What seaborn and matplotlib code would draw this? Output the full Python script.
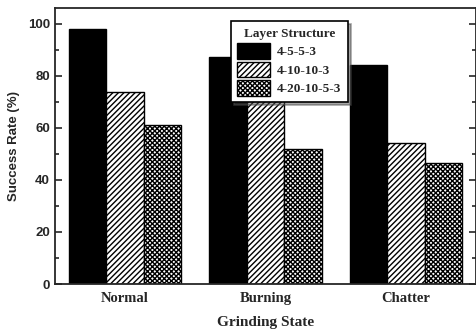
import pandas as pd
import seaborn as sns
import matplotlib.pyplot as plt
from matplotlib.ticker import MultipleLocator

states = ["Normal", "Burning", "Chatter"]
structures = ["4-5-5-3", "4-10-10-3", "4-20-10-5-3"]
rate_4_5_5_3 = [98, 87, 84.2]
rate_4_10_10_3 = [73.8, 75, 54.2]
rate_4_20_10_5_3 = [61.2, 52, 46.5]

df = pd.DataFrame({
    "Grinding State": states * 3,
    "Layer Structure": [structures[0]] * 3 + [structures[1]] * 3 + [structures[2]] * 3,
    "Success Rate": rate_4_5_5_3 + rate_4_10_10_3 + rate_4_20_10_5_3,
})

sns.set_style("ticks")
plt.rcParams['hatch.linewidth'] = 1.0
serif = ['Liberation Serif', 'DejaVu Serif']
sans = ['Liberation Sans', 'DejaVu Sans']

fig = plt.figure(figsize=(4.77, 3.33), dpi=100)
ax = fig.add_axes([0.115, 0.147, 0.883, 0.829])

sns.barplot(data=df, x="Grinding State", y="Success Rate", hue="Layer Structure",
            palette=["black", "white", "white"], edgecolor="black", linewidth=1,
            width=0.8, saturation=1, ax=ax, legend=False)

hatches = ["", "//////", "xxxxxxx"]
for cont, h in zip(ax.containers, hatches):
    for bar in cont:
        bar.set_hatch(h)

ax.set_ylim(0, 106)
ax.set_xlim(-0.5, 2.5)
ax.yaxis.set_major_locator(MultipleLocator(20))
ax.yaxis.set_minor_locator(MultipleLocator(10))
ax.tick_params(axis='y', which='both', direction='in', right=True, width=1.2)
ax.tick_params(axis='y', which='major', length=5)
ax.tick_params(axis='y', which='minor', length=3)
ax.tick_params(axis='x', length=0, pad=6)
for s in ax.spines.values():
    s.set_visible(True)
    s.set_linewidth(1.3)

for lbl in ax.get_yticklabels():
    lbl.set_fontfamily(sans)
    lbl.set_fontweight('bold')
    lbl.set_fontsize(9.5)
for lbl in ax.get_xticklabels():
    lbl.set_fontfamily(serif)
    lbl.set_fontweight('bold')
    lbl.set_fontsize(10.5)

ax.set_xlabel("Grinding State", fontfamily=serif, fontweight='bold', fontsize=11, labelpad=8)
ax.set_ylabel("Success Rate (%)", fontfamily=sans, fontweight='bold', fontsize=9.5, labelpad=6)

leg = ax.legend(handles=list(ax.containers), labels=structures,
                title="Layer Structure", loc="upper left", bbox_to_anchor=(0.402, 0.975),
                frameon=True, fancybox=False, shadow=True, edgecolor="black",
                prop={'family': serif, 'weight': 'bold', 'size': 9.5},
                handlelength=2.5, handleheight=1.4, borderpad=0.5, labelspacing=0.25,
                handletextpad=0.5)
leg.get_title().set_fontfamily(serif)
leg.get_title().set_fontweight('bold')
leg.get_title().set_fontsize(9.5)
leg.get_frame().set_linewidth(1.2)
leg.get_frame().set_alpha(1)

fig.savefig("out.png", dpi=100)
